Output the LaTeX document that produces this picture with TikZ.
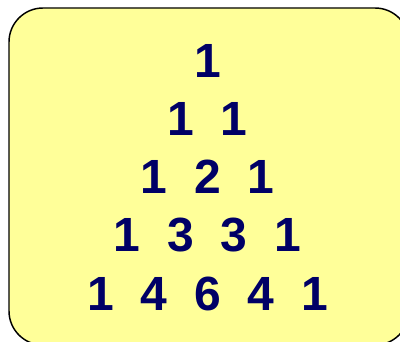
\documentclass[tikz,border=0pt]{standalone}
\usepackage{fontspec}
\setmainfont{Liberation Sans}
\definecolor{boxyellow}{RGB}{255,255,153}
\definecolor{digitnavy}{RGB}{0,0,102}

\tikzset{
  pbox/.style={draw=black, line width=1.1pt, fill=boxyellow, rounded corners=25.5pt},
  digit/.style={anchor=base, inner sep=0pt, text=digitnavy,
    font=\fontsize{36}{40}\selectfont\bfseries}
}

\begin{document}
\begin{tikzpicture}[x=0.75pt, y=-0.75pt]
\useasboundingbox (0,0) rectangle (400,342);
\clip (0,0) rectangle (400,342);
\draw[pbox] (9,8) rectangle (409,345);
% rows of the triangle
\foreach \vals [count=\r] in {{1},{1,1},{1,2,1},{1,3,3,1},{1,4,6,4,1}}
  \foreach \v [count=\c] in \vals
    \node[digit] (n\r-\c) at ({207.5+(\c-(\r+1)/2)*53.5}, {78+(\r-1)*58}) {\v};
\end{tikzpicture}
\end{document}
